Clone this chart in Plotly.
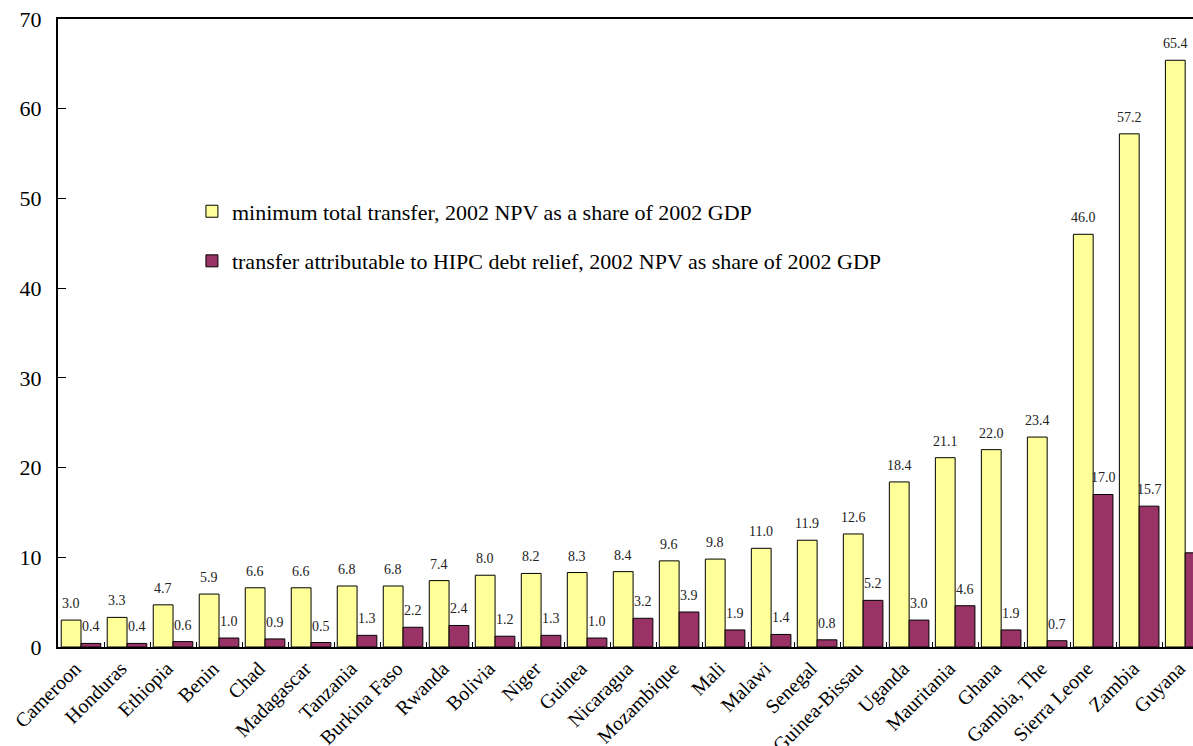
import plotly.graph_objects as go

countries = ["Cameroon", "Honduras", "Ethiopia", "Benin", "Chad", "Madagascar",
             "Tanzania", "Burkina Faso", "Rwanda", "Bolivia", "Niger", "Guinea",
             "Nicaragua", "Mozambique", "Mali", "Malawi", "Senegal", "Guinea-Bissau",
             "Uganda", "Mauritania", "Ghana", "Gambia, The", "Sierra Leone",
             "Zambia", "Guyana"]
total_transfer = [3.0, 3.3, 4.7, 5.9, 6.6, 6.6, 6.8, 6.8, 7.4, 8.0, 8.2, 8.3,
                  8.4, 9.6, 9.8, 11.0, 11.9, 12.6, 18.4, 21.1, 22.0, 23.4,
                  46.0, 57.2, 65.4]
hipc_transfer = [0.4, 0.4, 0.6, 1.0, 0.9, 0.5, 1.3, 2.2, 2.4, 1.2, 1.3, 1.0,
                 3.2, 3.9, 1.9, 1.4, 0.8, 5.2, 3.0, 4.6, 1.9, 0.7,
                 17.0, 15.7, 10.5]
y_ticks = [0, 10, 20, 30, 40, 50, 60, 70]

serif = "Liberation Serif"
BARGAP = 0.14

fig = go.Figure()
fig.add_trace(go.Bar(
    x=countries, y=total_transfer,
    name="minimum total transfer, 2002 NPV as a share of 2002 GDP",
    marker=dict(color="#FFFF99", line=dict(color="#000000", width=1)),
    legendgroup="a",
))
fig.add_trace(go.Bar(
    x=countries, y=hipc_transfer,
    name="transfer attributable to HIPC debt relief, 2002 NPV as share of 2002 GDP",
    marker=dict(color="#993366", line=dict(color="#000000", width=1)),
    legendgroup="b",
))

# value labels above each bar, offset to the centre of its bar in the group
half = (1 - BARGAP) / 4
for series, dx in ((total_transfer, -half), (hipc_transfer, half)):
    for i, v in enumerate(series):
        fig.add_annotation(
            x=i + dx, y=v, xref="x", yref="y", text=f"{v:.1f}",
            showarrow=False, yanchor="bottom", yshift=7,
            font=dict(family=serif, size=14, color="#222222"),
        )

fig.update_layout(
    width=1193, height=746,
    margin=dict(l=58, r=0, t=19, b=99),
    paper_bgcolor="white", plot_bgcolor="white",
    barmode="group", bargap=BARGAP, bargroupgap=0.0,
    font=dict(family=serif, color="#000000"),
    showlegend=True,
    legend=dict(x=0.118, y=0.727, xanchor="left", yanchor="top",
                font=dict(family=serif, size=22, color="#000000"),
                bgcolor="rgba(0,0,0,0)",
                tracegroupgap=18, traceorder="grouped"),
    xaxis=dict(
        type="category", range=[-0.5, 24.17], automargin=False,
        showline=True, linecolor="#000000", linewidth=2, mirror=True,
        ticks="inside", ticklen=5, tickcolor="#000000", tickson="boundaries",
        tickangle=-45, tickfont=dict(family=serif, size=20),
        ticklabelshift=-6,
        showgrid=False,
    ),
    yaxis=dict(
        range=[0, 70], tickvals=y_ticks, automargin=False,
        showline=True, linecolor="#000000", linewidth=2,
        ticks="inside", ticklen=8, tickcolor="#000000",
        tickfont=dict(family=serif, size=22), ticklabelstandoff=10,
        showgrid=False, zeroline=False,
    ),
)

fig.write_html("out.html")
